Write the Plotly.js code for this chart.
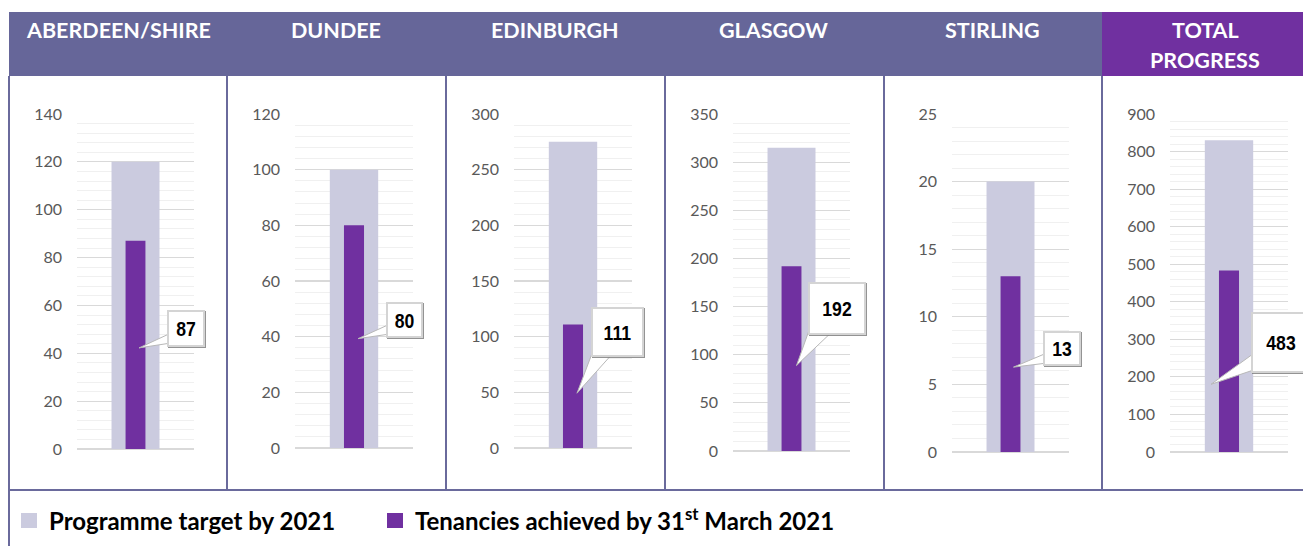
<!DOCTYPE html>
<html><head><meta charset="utf-8">
<script src="https://cdn.plot.ly/plotly-3.0.1.min.js"></script>
<style>html,body{margin:0;padding:0;background:#fff;} #chart{width:1303px;height:546px;}</style>
</head><body><div id="chart"></div>
<script>
// ---- data ----
const regions = ['ABERDEEN/SHIRE', 'DUNDEE', 'EDINBURGH', 'GLASGOW', 'STIRLING', 'TOTAL<br>PROGRESS'];
const targets = [120, 100, 275, 315, 20, 830];
const achieved = [87, 80, 111, 192, 13, 483];
const yMax = [140, 120, 300, 350, 25, 900];
const yMajor = [20, 20, 50, 50, 5, 100];
const yMinor = [4, 4, 10, 10, 1, 20];
const seriesNames = ['Programme target by 2021', 'Tenancies achieved by 31<sup>st</sup> March 2021'];

// ---- layout geometry (pixels) ----
const W = 1303, H = 546;
const px = v => v / W;
const py = v => 1 - v / H;
const plotX = [[77,194],[295,413],[514,632],[733,850],[952,1069],[1170,1288]];
const plotBottom = [449,448,448,451,452,452];
const plotTop = 114;
const panelEdges = [9,227,446,665,884,1102,1303];
const headerTop = 12, headerBottom = 76, frameBottom = 490;
const headerCenters = [118,336,555,773,992,1205];
const legendX = [9, 375];
// callout styling: box centre offset from bar midpoint (px, up positive), box size, tip offset
const boxDx = [50.5, 50.5, 44.5, 45, 51, 52];
const boxUp = [16.4, 16.7, 54, 49.8, 15.5, 19.3];
const boxW = [38, 37, 53, 58, 38, 60];
const boxH = [37, 36, 50, 53, 35, 61];
const tipDx = [3.5, 4, 4, 5, 3, -18];
const tipDown = [3, 2, 7, 7, 3, 23];
const wedgeA = [[4,14],[4,14],[3,9],[3,9],[4,13],[4,20]];
const wedgeB = [[4,4],[4,4],[21,3],[24,3],[4,3],[4,3]];

const C = {header:'#666699', total:'#7030a0', target:'#cbcbdf', achieved:'#7030a0', frame:'#6a6a9c'};
const FONT = 'Lato, "Open Sans", sans-serif';
const legendFont = {family: FONT, size: 24, color: '#000', weight: 'bold'};

const traces = [];
const layout = {
  width: W, height: H, margin: {l:0, r:0, t:0, b:0},
  barmode: 'overlay', showlegend: true,
  paper_bgcolor: '#ffffff', plot_bgcolor: 'rgba(0,0,0,0)',
  font: {family: FONT},
  shapes: [], annotations: [],
  legend: {orientation:'h', x:px(legendX[0]), y:py(521), xanchor:'left', yanchor:'middle', font:legendFont, bgcolor:'rgba(0,0,0,0)'},
  legend2: {orientation:'h', x:px(legendX[1]), y:py(521), xanchor:'left', yanchor:'middle', font:legendFont, bgcolor:'rgba(0,0,0,0)'}
};

// header band and frames
layout.shapes.push({type:'rect', xref:'paper', yref:'paper', x0:px(panelEdges[0]), x1:px(panelEdges[5]), y0:py(headerBottom), y1:py(headerTop), fillcolor:C.header, line:{width:0}, layer:'below'});
layout.shapes.push({type:'rect', xref:'paper', yref:'paper', x0:px(panelEdges[5]), x1:px(panelEdges[6]), y0:py(headerBottom), y1:py(headerTop), fillcolor:C.total, line:{width:0}, layer:'below'});
for (let k = 0; k < 6; k++) {
  layout.shapes.push({type:'line', xref:'paper', yref:'paper', x0:px(panelEdges[k]), x1:px(panelEdges[k]), y0:py(headerBottom), y1:py(k===0 ? H : frameBottom), line:{color:C.frame, width:2}, layer:'below'});
}
layout.shapes.push({type:'line', xref:'paper', yref:'paper', x0:px(panelEdges[0]), x1:1, y0:py(frameBottom), y1:py(frameBottom), line:{color:C.frame, width:2}, layer:'below'});

const calloutIdx = [];
regions.forEach((name, i) => {
  const n = i === 0 ? '' : String(i + 1);
  const xa = 'x' + n, ya = 'y' + n;
  traces.push({type:'bar', x:[0], y:[targets[i]], xaxis:xa, yaxis:ya, width:0.41,
    marker:{color:C.target}, name:seriesNames[0], legend:'legend', showlegend:i===0});
  traces.push({type:'bar', x:[0], y:[achieved[i]], xaxis:xa, yaxis:ya, width:0.17,
    marker:{color:C.achieved}, name:seriesNames[1], legend:'legend2', showlegend:i===0});
  layout['xaxis' + n] = {domain:[px(plotX[i][0]), px(plotX[i][1])], range:[-0.5, 0.5], visible:false, fixedrange:true, anchor:ya};
  layout['yaxis' + n] = {
    domain:[py(plotBottom[i]), py(plotTop)], range:[0, yMax[i]], dtick:yMajor[i], tick0:0,
    showgrid:true, gridcolor:'#d9d9d9', gridwidth:1.2, zeroline:true, zerolinecolor:'#d9d9d9', zerolinewidth:1.5,
    showline:false, ticks:'', ticklabelstandoff:14,
    tickfont:{family:FONT, size:16, color:'#595959'},
    minor:{dtick:yMinor[i], tick0:0, showgrid:true, gridcolor:'#f0f0f0', gridwidth:1},
    anchor:xa, fixedrange:true
  };

  // header text
  name.split('<br>').forEach((line, j) => {
    layout.annotations.push({xref:'paper', yref:'paper', x:px(headerCenters[i]), y:py(29.5 + 30*j),
      xanchor:'center', yanchor:'middle', showarrow:false, text:line,
      font:{family:FONT, size:21.5, color:'#ffffff', weight:'bold'}});
  });

  // callout
  const mid = achieved[i] / 2;
  const bl = boxDx[i] - boxW[i]/2, bb = boxUp[i] - boxH[i]/2;
  layout.shapes.push({type:'path', xref:xa, yref:ya, xsizemode:'pixel', ysizemode:'pixel', xanchor:0, yanchor:mid,
    path:`M ${tipDx[i]} ${-tipDown[i]} L ${bl + wedgeA[i][0]} ${bb + wedgeA[i][1]} L ${bl + wedgeB[i][0]} ${bb + wedgeB[i][1]} Z`,
    fillcolor:'#ffffff', line:{color:'#b8b8b8', width:1}, layer:'above'});
  calloutIdx.push(layout.annotations.length);
  layout.annotations.push({xref:xa, yref:ya, x:0, y:mid, showarrow:false, text:String(achieved[i]),
    xshift:boxDx[i], yshift:boxUp[i], width:boxW[i] - 4, height:boxH[i] - 4,
    bgcolor:'#ffffff', borderwidth:2, bordercolor:'#d4d4d4', borderpad:0,
    font:{family:'"Liberation Sans", Arial, sans-serif', size:21, color:'#000000', weight:'bold'}});
});

function touchUp(gd) {
  // narrow the callout numbers to mimic a condensed bold face, add a soft shadow to the box
  calloutIdx.forEach(k => {
    const g = gd.querySelector('g.annotation[data-index="' + k + '"]');
    if (!g) return;
    const t = g.querySelector('text.annotation-text');
    if (t && !t.hasAttribute('textLength')) {
      const len = t.getComputedTextLength();
      t.setAttribute('textLength', (len * 0.84).toFixed(1));
      t.setAttribute('lengthAdjust', 'spacingAndGlyphs');
    }
    const bg = g.querySelector('rect.bg');
    if (bg) bg.style.filter = 'drop-shadow(1.5px 1.5px 0.6px rgba(120,120,120,0.8))';
  });
  // slightly larger legend swatches, as in the reference
  gd.querySelectorAll('.legendpoints path').forEach(p => p.setAttribute('d', 'M8,7.5H-8V-7.5H8Z'));
}

Plotly.newPlot('chart', traces, layout, {displayModeBar:false, staticPlot:true}).then(gd => {
  touchUp(gd);
  requestAnimationFrame(() => touchUp(gd));
});
</script>
</body></html>
